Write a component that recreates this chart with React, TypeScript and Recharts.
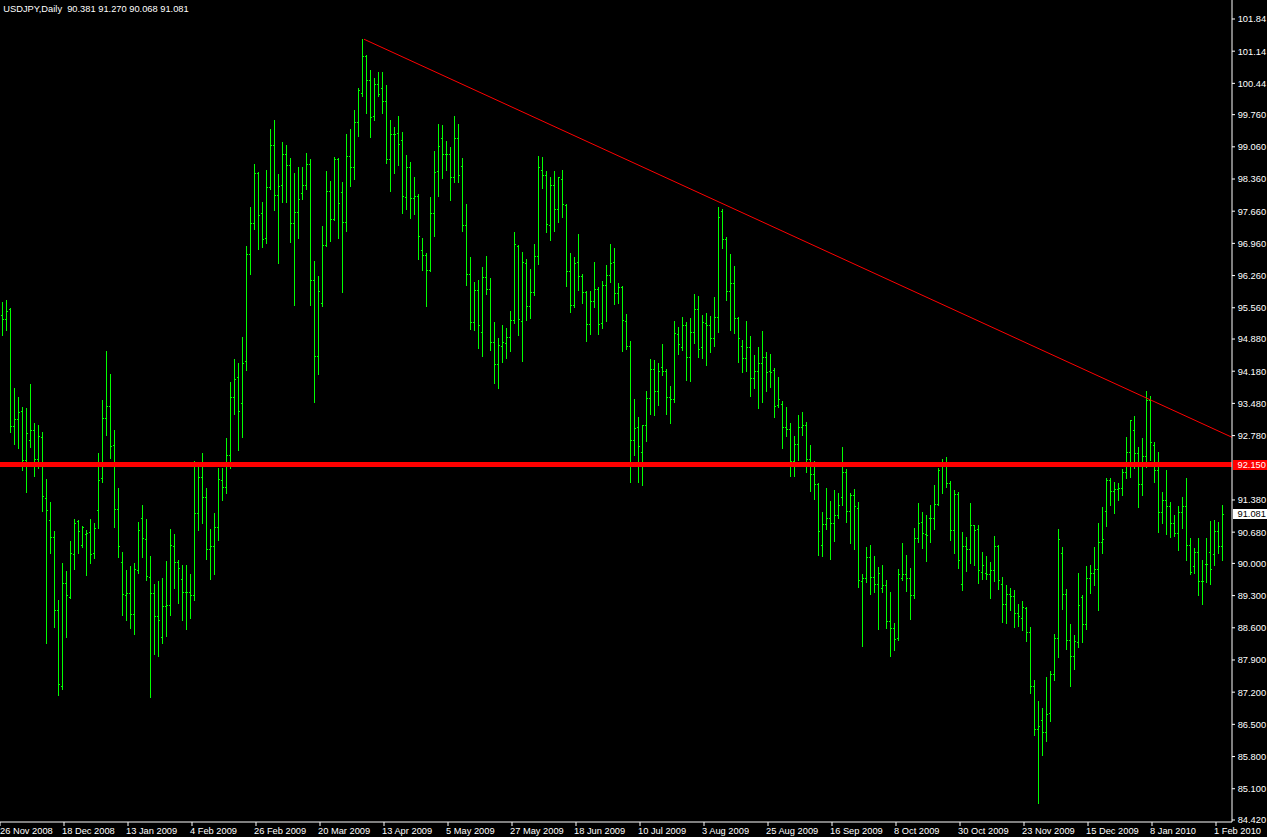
import React from 'react';
import { ComposedChart, Bar, XAxis, YAxis, ReferenceLine } from 'recharts';

const FONT = '"Liberation Sans", Arial, sans-serif';
const FS = 9.3;

const opens = [
  95.40, 95.31, 95.53, 92.99, 93.15, 93.32, 92.25, 92.68, 92.90, 92.27,
  92.75, 91.42, 90.95, 90.57, 88.99, 87.33, 89.57, 89.27, 90.20, 90.93,
  90.40, 90.64, 90.68, 90.22, 91.16, 91.85, 93.17, 93.42, 92.58, 91.18,
  90.03, 89.31, 89.35, 88.90, 89.86, 90.99, 90.54, 89.71, 89.35, 88.85,
  88.40, 89.07, 89.10, 90.37, 90.03, 89.66, 89.38, 89.38, 89.31, 91.09,
  91.88, 91.44, 90.31, 90.38, 90.79, 91.81, 91.66, 92.35, 93.61, 94.06,
  93.49, 94.40, 96.73, 97.40, 98.49, 97.62, 97.07, 98.18, 99.11, 98.01,
  98.23, 98.91, 98.66, 97.40, 97.64, 98.06, 98.22, 98.68, 96.16, 94.51,
  95.66, 96.92, 98.09, 97.49, 98.80, 98.07, 97.42, 98.85, 98.62, 99.61,
  100.23, 101.04, 100.51, 99.73, 100.42, 100.35, 100.05, 98.80, 99.33, 99.355,
  99.21, 97.97, 98.62, 97.94, 97.99, 96.82, 96.70, 96.39, 97.63, 98.54,
  99.25, 98.90, 98.90, 98.41, 99.25, 98.645, 97.355, 96.305, 95.25, 95.94,
  95.03, 96.22, 95.96, 94.81, 94.33, 94.725, 94.79, 94.92, 95.29, 96.90,
  95.27, 96.54, 95.60, 95.905, 96.68, 98.55, 98.45, 97.36, 98.23, 97.71,
  98.36, 97.80, 96.355, 95.63, 96.56, 96.25, 95.905, 95.21, 95.71, 95.97,
  95.23, 96.06, 96.275, 96.56, 95.885, 96.01, 95.275, 94.725, 92.68, 92.96,
  92.42, 93.01, 93.595, 94.225, 93.75, 94.27, 94.18, 93.63, 93.565, 94.99,
  94.71, 95.19, 94.49, 95.04, 95.54, 94.71, 95.23, 95.19, 94.905, 95.36,
  97.67, 97.06, 95.93, 96.10, 95.34, 94.73, 94.47, 94.71, 94.04, 94.19,
  94.36, 94.49, 94.19, 94.21, 93.45, 93.47, 92.97, 92.93, 92.23, 92.60,
  92.97, 93.01, 92.275, 91.95, 91.73, 90.40, 90.86, 90.99, 90.88, 91.06,
  91.45, 91.99, 91.145, 91.49, 91.21, 89.62, 89.69, 90.145, 89.71, 89.56,
  89.47, 89.535, 88.75, 88.60, 88.38, 89.69, 89.775, 89.69, 89.32, 90.56,
  90.905, 90.645, 90.99, 90.99, 91.30, 92.21, 92.21, 91.75, 90.73, 91.51,
  89.56, 90.38, 90.32, 90.84, 90.75, 89.82, 89.80, 89.775, 89.86, 90.38,
  89.56, 89.12, 89.34, 89.30, 88.93, 88.82, 89.035, 88.51, 87.34, 86.405,
  86.60, 86.34, 86.75, 87.60, 88.38, 90.23, 89.34, 88.34, 87.99, 88.30,
  89.275, 88.69, 89.69, 89.795, 89.88, 90.46, 91.14, 91.82, 91.58, 91.62,
  91.645, 91.99, 92.43, 92.905, 92.405, 91.73, 92.34, 93.56, 92.58, 92.035,
  91.12, 91.38, 91.25, 90.875, 90.665, 91.12, 91.25, 90.405, 89.95, 90.245,
  89.615, 89.99, 90.25, 90.21, 90.71, 90.381,
];

const highs = [
  95.68, 95.73, 95.56, 93.82, 93.62, 93.41, 93.38, 93.91, 93.05, 93.01,
  92.86, 91.84, 91.34, 90.71, 89.21, 90.01, 89.84, 90.49, 90.97, 90.95,
  90.82, 90.73, 90.97, 90.88, 92.41, 93.56, 94.62, 94.12, 92.91, 91.64,
  90.25, 89.86, 89.95, 90.01, 90.91, 91.28, 90.97, 90.17, 89.56, 89.62,
  89.69, 90.05, 90.75, 90.64, 90.08, 89.97, 89.97, 89.77, 92.23, 92.21,
  92.40, 91.64, 90.75, 91.10, 92.08, 92.07, 92.73, 93.95, 94.45, 94.36,
  94.93, 96.90, 97.75, 98.69, 98.52, 97.86, 98.56, 99.45, 99.65, 98.47,
  99.16, 99.10, 98.81, 98.49, 98.62, 98.62, 98.92, 98.80, 96.58, 96.25,
  97.34, 98.54, 98.32, 98.84, 98.82, 98.30, 99.34, 99.45, 99.86, 100.35,
  101.40, 101.06, 100.73, 100.56, 100.69, 100.69, 100.41, 99.645, 99.49, 99.73,
  99.38, 98.88, 98.73, 98.41, 98.04, 97.08, 96.74, 97.96, 98.97, 99.56,
  99.535, 99.19, 99.06, 99.73, 99.56, 98.82, 97.82, 96.67, 96.12, 96.17,
  96.45, 96.69, 96.21, 95.25, 94.905, 95.19, 95.12, 95.49, 97.21, 96.93,
  96.775, 96.62, 96.41, 96.95, 98.86, 98.84, 98.54, 98.41, 98.54, 98.41,
  98.56, 97.82, 96.75, 96.67, 97.17, 96.30, 95.93, 95.93, 96.56, 96.01,
  96.145, 96.49, 96.95, 96.86, 96.10, 96.04, 95.43, 94.84, 93.58, 93.19,
  93.01, 93.75, 94.45, 94.43, 94.36, 94.775, 94.23, 93.86, 95.275, 95.145,
  95.36, 95.25, 95.34, 95.86, 95.82, 95.40, 95.45, 95.38, 95.80, 97.75,
  97.71, 97.10, 96.73, 96.47, 95.36, 94.86, 95.275, 94.95, 94.54, 94.71,
  95.06, 94.60, 94.56, 94.25, 94.06, 93.535, 93.40, 93.06, 92.77, 93.23,
  93.30, 93.08, 92.58, 92.23, 91.755, 91.12, 91.645, 91.36, 91.60, 91.535,
  92.535, 92.06, 91.535, 91.62, 91.34, 89.775, 90.36, 90.405, 90.165, 89.93,
  89.97, 89.645, 89.385, 88.71, 89.88, 90.45, 90.19, 89.905, 90.775, 91.32,
  91.12, 91.06, 91.275, 91.71, 92.08, 92.275, 92.32, 91.80, 91.60, 91.56,
  90.69, 90.58, 91.32, 90.84, 90.84, 90.25, 90.17, 90.04, 90.60, 90.405,
  89.71, 89.535, 89.47, 89.43, 89.12, 89.19, 89.06, 88.62, 87.47, 87.01,
  86.86, 87.54, 87.665, 88.47, 90.75, 90.36, 89.45, 88.69, 88.45, 89.80,
  89.32, 89.95, 89.97, 90.36, 90.88, 91.23, 91.86, 91.86, 91.775, 91.75,
  92.06, 92.75, 93.12, 93.21, 92.535, 92.73, 93.75, 93.645, 92.64, 92.43,
  91.56, 92.035, 91.34, 91.06, 91.25, 91.45, 91.86, 90.56, 90.34, 90.56,
  90.08, 90.56, 90.925, 90.95, 90.905, 91.27,
];

const lows = [
  94.96, 95.08, 92.85, 92.60, 92.52, 92.04, 91.56, 92.54, 91.91, 92.07,
  91.13, 88.26, 90.22, 88.61, 87.13, 87.26, 88.39, 89.24, 89.87, 90.22,
  90.35, 89.74, 90.00, 90.11, 90.78, 91.78, 92.80, 92.30, 90.80, 90.13,
  88.87, 88.76, 88.59, 88.46, 89.80, 90.13, 89.65, 87.09, 88.04, 87.98,
  88.26, 88.42, 88.87, 89.46, 89.13, 88.78, 88.57, 88.81, 89.20, 90.72,
  90.87, 90.10, 89.67, 89.78, 90.52, 91.39, 91.54, 92.07, 93.26, 92.47,
  92.74, 94.21, 96.30, 97.28, 96.83, 96.89, 96.96, 98.15, 97.68, 96.54,
  97.85, 97.86, 97.00, 95.63, 97.08, 97.93, 98.14, 95.63, 93.52, 94.11,
  95.60, 96.90, 97.02, 97.46, 97.07, 95.91, 97.24, 98.20, 98.35, 99.30,
  100.17, 99.80, 99.28, 99.645, 100.17, 99.80, 98.70, 98.11, 98.48, 98.67,
  97.63, 97.70, 97.52, 97.59, 96.61, 96.39, 95.59, 96.37, 97.11, 97.98,
  98.38, 98.56, 97.91, 98.30, 98.30, 97.22, 96.065, 95.10, 95.08, 94.69,
  94.51, 95.86, 94.645, 93.93, 93.82, 94.39, 94.47, 94.62, 95.225, 94.97,
  94.41, 95.30, 95.34, 95.84, 96.515, 98.17, 97.21, 97.04, 97.23, 97.43,
  97.535, 96.04, 95.47, 95.58, 95.95, 95.67, 94.84, 94.99, 95.58, 94.99,
  95.12, 95.275, 96.12, 95.645, 95.67, 94.62, 94.67, 91.78, 92.35, 91.76,
  91.695, 92.67, 93.24, 93.22, 93.45, 94.09, 93.25, 93.06, 93.50, 94.56,
  94.645, 93.99, 93.97, 94.80, 94.49, 94.47, 94.32, 94.60, 94.73, 95.035,
  96.86, 95.73, 95.08, 95.015, 94.385, 94.17, 94.19, 93.645, 93.82, 93.38,
  93.515, 93.75, 93.84, 93.19, 93.40, 92.52, 92.78, 91.91, 91.905, 92.25,
  92.80, 91.99, 91.58, 91.405, 90.19, 90.17, 90.75, 90.10, 90.49, 90.99,
  91.275, 90.905, 90.45, 90.32, 89.49, 88.21, 89.60, 89.34, 89.385, 88.58,
  89.385, 88.60, 87.99, 88.12, 88.34, 89.645, 89.405, 88.80, 89.25, 90.47,
  90.34, 90.06, 90.47, 90.75, 91.26, 91.54, 91.67, 90.52, 90.23, 89.905,
  89.43, 89.84, 90.015, 89.97, 89.58, 89.67, 89.67, 89.25, 89.625, 89.45,
  88.73, 88.71, 88.99, 88.62, 88.645, 88.56, 88.32, 87.19, 86.275, 84.80,
  85.84, 86.145, 86.58, 87.47, 87.97, 89.01, 88.145, 87.34, 87.71, 88.19,
  88.30, 88.58, 89.36, 89.54, 88.99, 90.22, 90.82, 91.275, 91.10, 91.38,
  91.49, 91.86, 91.88, 92.08, 91.23, 91.49, 92.10, 92.25, 91.775, 90.69,
  90.88, 90.645, 90.58, 90.60, 90.30, 90.775, 90.08, 89.775, 89.80, 89.32,
  89.12, 89.60, 89.56, 89.97, 90.23, 90.068,
];

const closes = [
  95.31, 95.50, 92.99, 93.14, 93.30, 92.25, 92.83, 92.90, 92.27, 92.77,
  91.46, 91.17, 90.57, 88.99, 87.38, 89.57, 89.31, 90.22, 90.88, 90.70,
  90.79, 90.67, 90.20, 90.77, 91.81, 93.17, 93.42, 92.55, 91.18, 90.38,
  89.33, 89.35, 88.90, 89.88, 90.73, 90.56, 89.73, 89.35, 88.85, 88.77,
  89.07, 89.10, 90.40, 90.03, 89.90, 89.38, 89.38, 89.31, 91.09, 91.88,
  91.44, 90.31, 90.38, 90.79, 91.84, 91.66, 92.35, 93.61, 94.02, 93.31,
  94.36, 96.73, 97.40, 98.49, 97.58, 97.05, 98.18, 99.11, 98.01, 98.21,
  98.90, 98.66, 97.40, 97.64, 97.92, 98.22, 98.68, 96.16, 94.51, 95.92,
  96.92, 98.09, 97.49, 98.80, 97.83, 97.42, 98.85, 98.62, 99.61, 100.29,
  101.04, 100.51, 99.70, 100.42, 100.20, 100.05, 98.80, 99.33, 99.33, 99.115,
  97.98, 98.62, 97.94, 97.99, 97.13, 96.70, 96.39, 97.63, 98.52, 99.07,
  98.90, 98.90, 98.41, 99.25, 98.44, 97.355, 96.305, 95.25, 95.94, 95.18,
  96.22, 95.96, 94.81, 94.33, 94.75, 94.81, 94.92, 95.29, 96.94, 95.31,
  96.565, 95.60, 95.905, 96.68, 98.62, 98.45, 97.385, 98.23, 97.71, 98.41,
  97.82, 96.355, 95.63, 96.53, 96.25, 95.905, 95.21, 95.71, 95.97, 95.21,
  96.06, 96.275, 96.54, 95.885, 96.01, 95.30, 94.725, 92.68, 92.94, 92.55,
  93.01, 93.595, 94.225, 93.75, 94.18, 94.18, 93.63, 93.565, 95.015, 94.775,
  95.19, 94.49, 95.04, 95.54, 94.67, 95.25, 95.19, 94.905, 95.36, 97.54,
  97.06, 95.93, 96.10, 95.34, 94.905, 94.47, 94.71, 94.04, 94.19, 94.36,
  94.49, 94.17, 94.17, 93.43, 93.58, 92.97, 92.93, 92.23, 92.60, 92.97,
  93.01, 92.275, 91.95, 91.73, 90.71, 90.86, 90.99, 90.88, 91.06, 91.275,
  91.99, 91.145, 91.49, 91.25, 89.645, 89.69, 90.145, 89.71, 89.56, 89.795,
  89.535, 88.75, 88.60, 88.36, 89.775, 89.775, 89.69, 89.32, 90.56, 90.88,
  90.665, 90.62, 90.99, 91.30, 92.04, 92.21, 91.75, 90.73, 91.51, 90.08,
  90.38, 90.32, 90.84, 90.73, 89.86, 89.97, 89.775, 89.86, 90.38, 89.645,
  89.12, 89.34, 89.30, 88.93, 88.86, 89.06, 88.51, 87.34, 86.405, 86.47,
  86.34, 86.73, 87.60, 88.38, 90.54, 89.34, 88.34, 87.99, 88.32, 89.10,
  88.69, 89.69, 89.80, 89.88, 90.46, 90.53, 91.82, 91.58, 91.62, 91.645,
  91.99, 92.43, 93.12, 92.405, 91.73, 92.34, 93.56, 92.64, 92.035, 91.12,
  91.38, 91.25, 90.875, 90.665, 91.12, 91.25, 90.405, 89.82, 90.245, 89.615,
  89.615, 89.99, 89.88, 90.71, 90.38, 91.081,
];

const xTickIndex = [-1, 15, 31, 47, 63, 79, 95, 111, 127, 143, 159, 175, 191, 207, 223, 239, 255, 271, 287, 303];
const xTickLabels = [
  '26 Nov 2008', '18 Dec 2008', '13 Jan 2009', '4 Feb 2009', '26 Feb 2009', '20 Mar 2009',
  '13 Apr 2009', '5 May 2009', '27 May 2009', '18 Jun 2009', '10 Jul 2009', '3 Aug 2009',
  '25 Aug 2009', '16 Sep 2009', '8 Oct 2009', '30 Oct 2009', '23 Nov 2009', '15 Dec 2009',
  '8 Jan 2010', '1 Feb 2010',
];

const priceTicks = [
  101.84, 101.14, 100.44, 99.76, 99.06, 98.36, 97.66, 96.96, 96.26, 95.56, 94.88, 94.18,
  93.48, 92.78, 91.38, 90.68, 90.0, 89.3, 88.6, 87.9, 87.2, 86.5, 85.8, 85.1, 84.42,
];
const priceTickLabels = [
  '101.84', '101.14', '100.44', '99.760', '99.060', '98.360', '97.660', '96.960', '96.260',
  '95.560', '94.880', '94.180', '93.480', '92.780', '91.380', '90.680', '90.000', '89.300',
  '88.600', '87.900', '87.200', '86.500', '85.800', '85.100', '84.420',
];

const symbolTitle = 'USDJPY,Daily';
const lastBar = ['90.381', '91.270', '90.068', '91.081'];
const supportLevel = 92.15;
const supportLabel = '92.150';
const bidLevel = 91.081;
const bidLabel = '91.081';
const trendStart = { x: 90, y: 101.40 };
const trendEnd = { x: 307, y: 92.743 };

const xDomain: [number, number] = [-1, 307];
const yDomain: [number, number] = [84.3765, 102.253];

const data = highs.map((h, i) => ({
  i,
  range: [lows[i], h],
  o: opens[i],
  h,
  l: lows[i],
  c: closes[i],
}));

const OhlcShape = (props: any) => {
  const { x, y, width, height, payload } = props;
  if (x == null || y == null || !payload) return null;
  const top = Math.min(y, y + height);
  const bot = Math.max(y, y + height);
  const span = payload.h - payload.l;
  const pix = (v: number) => (span > 0 ? top + ((payload.h - v) / span) * (bot - top) : top);
  const col = Math.floor(x + width / 2) - 1;
  const t = Math.round(top);
  const b = Math.max(Math.round(bot), t + 1);
  const oy = Math.min(Math.round(pix(payload.o)), b - 1);
  const cy = Math.min(Math.round(pix(payload.c)), b - 1);
  return (
    <g shapeRendering="crispEdges" fill="#00ff00">
      <rect x={col} y={t} width={1} height={b - t + 1} />
      <rect x={col - 1} y={oy} width={1} height={1} />
      <rect x={col + 1} y={cy} width={1} height={1} />
    </g>
  );
};

const XTick = (props: any) => {
  const { x, y, payload } = props;
  const idx = xTickIndex.indexOf(payload.value);
  if (idx < 0) return null;
  return (
    <text x={Math.max(0, x - 2)} y={y + 6.3} fill="#ffffff" fontSize={FS} fontFamily={FONT} textAnchor="start">
      {xTickLabels[idx]}
    </text>
  );
};

const YTick = (props: any) => {
  const { x, y, payload } = props;
  const idx = priceTicks.indexOf(payload.value);
  if (idx < 0) return null;
  return (
    <text x={x + 0.7} y={y + 3.4} fill="#ffffff" fontSize={FS} fontFamily={FONT} textAnchor="start">
      {priceTickLabels[idx]}
    </text>
  );
};

const PriceTag = (props: any) => {
  const { viewBox, text, bg, fg } = props;
  if (!viewBox) return null;
  const x = viewBox.x + viewBox.width + 1;
  const y = viewBox.y;
  return (
    <g>
      <rect x={x} y={Math.round(y) - 5} width={35} height={10} fill={bg} shapeRendering="crispEdges" />
      <text x={x + 4.5} y={y + 3.4} fill={fg} fontSize={FS} fontFamily={FONT} textAnchor="start">
        {text}
      </text>
    </g>
  );
};

export default function App() {
  return (
    <div
      style={{
        position: 'absolute',
        left: 0,
        top: 0,
        width: 1267,
        height: 837,
        background: '#000000',
        overflow: 'hidden',
      }}
    >
      <ComposedChart
        width={1267}
        height={837}
        data={data}
        margin={{ top: 0, right: 0, bottom: 0, left: 0 }}
      >
        <XAxis
          type="number"
          dataKey="i"
          domain={xDomain}
          allowDataOverflow
          ticks={xTickIndex}
          interval={0}
          height={15}
          stroke="#ffffff"
          tickSize={4}
          tickMargin={2}
          tick={<XTick />}
        />
        <YAxis
          orientation="right"
          type="number"
          domain={yDomain}
          allowDataOverflow
          ticks={priceTicks}
          interval={0}
          width={35}
          stroke="#ffffff"
          tickSize={3}
          tickMargin={2}
          tick={<YTick />}
        />
        <Bar
          dataKey="range"
          barSize={3}
          isAnimationActive={false}
          shape={<OhlcShape />}
        />
        <ReferenceLine
          y={supportLevel}
          stroke="#ff0000"
          strokeWidth={5}
          label={<PriceTag text={supportLabel} bg="#ff0000" fg="#ffffff" />}
        />
        <ReferenceLine
          y={bidLevel}
          stroke="#000000"
          strokeOpacity={0}
          label={<PriceTag text={bidLabel} bg="#ffffff" fg="#000000" />}
        />
        <ReferenceLine
          segment={[trendStart, trendEnd]}
          stroke="#ff0000"
          strokeWidth={1}
          ifOverflow="visible"
        />
      </ComposedChart>
      <svg
        width={300}
        height={16}
        style={{ position: 'absolute', left: 0, top: 0 }}
      >
        <text x={3.3} y={11.5} fill="#ffffff" fontSize={FS} fontFamily={FONT} style={{ whiteSpace: 'pre' }}>
          {`${symbolTitle}  ${lastBar.join(' ')}`}
        </text>
      </svg>
    </div>
  );
}
